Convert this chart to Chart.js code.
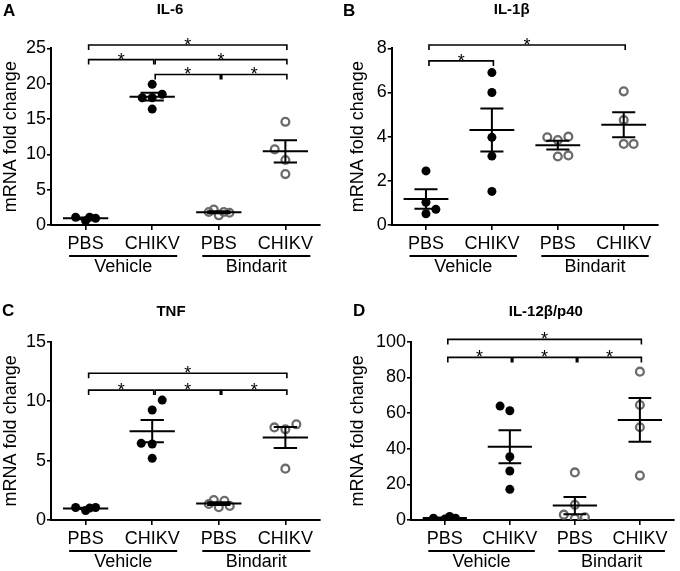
<!DOCTYPE html>
<html>
<head>
<meta charset="utf-8">
<title>mRNA fold change</title>
<script src="https://cdn.jsdelivr.net/npm/chart.js@4.4.1/dist/chart.umd.min.js"></script>
<style>
  body { margin: 0; background: #fff; }
  #wrap { position: relative; width: 680px; height: 571px; }
  .panel { position: absolute; }
</style>
</head>
<body>
<div id="wrap">
  <div class="panel" style="left:0;top:0;width:340px;height:285px"><canvas id="chartA"></canvas></div>
  <div class="panel" style="left:340px;top:0;width:340px;height:285px"><canvas id="chartB"></canvas></div>
  <div class="panel" style="left:0;top:285px;width:340px;height:286px"><canvas id="chartC"></canvas></div>
  <div class="panel" style="left:340px;top:285px;width:340px;height:286px"><canvas id="chartD"></canvas></div>
</div>
<script>
const groups = ['PBS', 'CHIKV', 'PBS', 'CHIKV'];
const treatments = ['Vehicle', 'Bindarit'];

// values per group: [Vehicle PBS, Vehicle CHIKV, Bindarit PBS, Bindarit CHIKV]
const il6Values = [[1.1, 0.6, 1.1, 0.95], [19.9, 18.0, 18.0, 18.5, 16.4], [1.84, 2.2, 1.37, 1.84, 1.74], [14.6, 10.7, 9.2, 7.2]];
const il6Jitter = [[-0.15, 0, 0.06, 0.15], [0, -0.15, 0, 0.15, 0], [-0.15, -0.075, 0, 0.075, 0.16], [0, -0.16, 0, 0]];
const il6Brackets = [[0, 3, 25.46], [0, 1, 23.4], [1, 3, 23.4], [1, 2, 21.3], [2, 3, 21.3]];

const il1bValues = [[2.45, 1.03, 0.51, 0.71], [6.9, 6.0, 3.97, 3.12, 1.52], [3.97, 3.85, 4.0, 3.1, 3.15], [6.05, 4.75, 3.67, 3.67]];
const il1bJitter = [[0, 0, 0, 0.15], [0, 0, 0, 0, 0], [-0.16, 0, 0.16, 0, 0.16], [0, 0, 0, 0.15]];
const il1bBrackets = [[0, 3, 8.15], [0, 1, 7.43]];

const tnfValues = [[1.05, 0.8, 1.0, 1.05], [10.09, 9.25, 6.45, 6.39, 5.19], [1.35, 1.68, 1.07, 1.62, 1.18], [7.79, 7.63, 8.05, 4.32]];
const tnfJitter = [[-0.15, 0, 0.06, 0.15], [0.15, 0, -0.165, 0, 0], [-0.15, -0.075, 0, 0.085, 0.165], [-0.165, 0, 0.165, 0]];
const tnfBrackets = [[0, 3, 12.34], [0, 1, 10.93], [1, 2, 10.93], [2, 3, 10.93]];

const il12Values = [[1.0, 0.5, 2.0, 1.0], [63.9, 61.3, 35.5, 27.5, 17.2], [26.7, 8.5, 3.0, 0.8, 1.5], [83.2, 64.5, 52.0, 24.9]];
const il12Jitter = [[-0.175, 0, 0.075, 0.165], [-0.15, 0, 0, 0, 0], [0, 0, -0.17, 0, 0.155], [0, 0, 0, 0]];
const il12Brackets = [[0, 3, 101.3], [0, 1, 91.2], [1, 2, 91.2], [2, 3, 91.2]];

Chart.defaults.font.family = "'Liberation Sans', Arial, sans-serif";
Chart.defaults.color = '#000';

function meanSem(arr) {
    const n = arr.length;
    const m = arr.reduce((a, b) => a + b, 0) / n;
    const sd = Math.sqrt(arr.reduce((a, b) => a + (b - m) ** 2, 0) / (n - 1));
    return [m, sd / Math.sqrt(n)];
}

function toPoints(values, jitter, cats) {
    const pts = [];
    cats.forEach((c) => {
        values[c].forEach((v, i) => pts.push({ x: c + jitter[c][i], y: v }));
    });
    return pts;
}

const extras = {
    id: 'extras',
    afterDatasetsDraw(chart, args, opts) {
        const ctx = chart.ctx;
        const xs = chart.scales.x, ys = chart.scales.y;
        ctx.save();
        ctx.strokeStyle = '#000';
        ctx.lineWidth = 2;
        opts.values.forEach((vals, c) => {
            const [m, sem] = meanSem(vals);
            const cx = xs.getPixelForValue(c);
            const ym = ys.getPixelForValue(m), yt = ys.getPixelForValue(m + sem), yb = ys.getPixelForValue(m - sem);
            ctx.beginPath();
            ctx.moveTo(xs.getPixelForValue(c - 0.34), ym); ctx.lineTo(xs.getPixelForValue(c + 0.34), ym);
            ctx.moveTo(cx, yt); ctx.lineTo(cx, yb);
            ctx.moveTo(xs.getPixelForValue(c - 0.175), yt); ctx.lineTo(xs.getPixelForValue(c + 0.175), yt);
            ctx.moveTo(xs.getPixelForValue(c - 0.175), yb); ctx.lineTo(xs.getPixelForValue(c + 0.175), yb);
            ctx.stroke();
        });
        ctx.restore();
    },
    afterDraw(chart, args, opts) {
        const ctx = chart.ctx;
        const xs = chart.scales.x, ys = chart.scales.y;
        const bottom = chart.chartArea.bottom;
        ctx.save();
        ctx.strokeStyle = '#000';
        ctx.fillStyle = '#000';
        // significance brackets
        ctx.lineWidth = 1.6;
        ctx.font = "18px 'Liberation Sans', Arial";
        ctx.textAlign = 'center';
        ctx.textBaseline = 'alphabetic';
        opts.brackets.forEach(([a, b, lev]) => {
            const x1 = xs.getPixelForValue(a) + 3, x2 = xs.getPixelForValue(b) + 1.5;
            const y = ys.getPixelForValue(lev);
            ctx.beginPath();
            ctx.moveTo(x1, y + 5); ctx.lineTo(x1, y); ctx.lineTo(x2, y); ctx.lineTo(x2, y + 5);
            ctx.stroke();
            ctx.fillText('*', (x1 + x2) / 2, y + 6);
        });
        // treatment groups under the axis
        ctx.lineWidth = 1.8;
        ctx.font = "18px 'Liberation Sans', Arial";
        ctx.textBaseline = 'middle';
        treatments.forEach((t, i) => {
            const l = xs.getPixelForValue(2 * i) - 16.5, r = xs.getPixelForValue(2 * i + 1) + 25;
            ctx.beginPath();
            ctx.moveTo(l, bottom + 31); ctx.lineTo(r, bottom + 31);
            ctx.stroke();
            ctx.fillText(t, (l + r) / 2, bottom + 42.5);
        });
        // panel title and letter
        ctx.font = "bold 15px 'Liberation Sans', Arial";
        ctx.fillText(opts.title, opts.titlePos[0], opts.titlePos[1]);
        ctx.font = "bold 17px 'Liberation Sans', Arial";
        ctx.textAlign = 'left';
        ctx.fillText(opts.letter, opts.letterPos[0], opts.letterPos[1]);
        ctx.restore();
    }
};

function makePanel(id, cfg) {
    const canvas = document.getElementById(id);
    const w = canvas.parentNode.clientWidth, h = canvas.parentNode.clientHeight;
    return new Chart(canvas.getContext('2d'), {
        type: 'scatter',
        data: {
            datasets: [{
                data: toPoints(cfg.values, cfg.jitter, [0, 1]),
                pointRadius: 4.5,
                pointBackgroundColor: '#000',
                pointBorderWidth: 0
            }, {
                data: toPoints(cfg.values, cfg.jitter, [2, 3]),
                pointRadius: 3.9,
                pointBackgroundColor: 'rgba(0,0,0,0)',
                pointBorderColor: '#6b6b6b',
                pointBorderWidth: 2.3
            }]
        },
        options: {
            responsive: true,
            maintainAspectRatio: false,
            animation: false,
            events: [],
            layout: { padding: { left: 0, top: cfg.box.top, right: w - cfg.box.right, bottom: 0 } },
            plugins: {
                legend: { display: false },
                tooltip: { enabled: false },
                extras: cfg
            },
            scales: {
                x: {
                    type: 'linear',
                    min: -0.52,
                    max: 3.52,
                    afterBuildTicks: (s) => { s.ticks = [0, 1, 2, 3].map((v) => ({ value: v })); },
                    afterFit: (s) => { s.height = h - cfg.box.bottom; },
                    ticks: {
                        autoSkip: false,
                        maxRotation: 0,
                        padding: 3,
                        font: { size: 18 },
                        callback: (v) => groups[v]
                    },
                    grid: { drawOnChartArea: false, color: '#000', tickLength: 5, lineWidth: 1.6 },
                    border: { color: '#000', width: 2 }
                },
                y: {
                    min: 0,
                    max: cfg.yMax,
                    afterFit: (s) => { s.width = cfg.box.left; },
                    ticks: { stepSize: cfg.yStep, padding: 1, font: { size: 18 } },
                    grid: { drawOnChartArea: false, color: '#000', tickLength: 4, lineWidth: 1.6 },
                    border: { color: '#000', width: 2 },
                    title: {
                        display: true,
                        text: 'mRNA fold change',
                        font: { size: 18 },
                        padding: { top: cfg.yTitlePad, bottom: 0 }
                    }
                }
            }
        },
        plugins: [extras]
    });
}

makePanel('chartA', {
    values: il6Values, jitter: il6Jitter, brackets: il6Brackets,
    yMax: 25, yStep: 5, title: 'IL-6', letter: 'A',
    box: { left: 51, right: 320, top: 48.3, bottom: 225 },
    yTitlePad: 0, titlePos: [170, 10], letterPos: [3, 11]
});
makePanel('chartB', {
    values: il1bValues, jitter: il1bJitter, brackets: il1bBrackets,
    yMax: 8, yStep: 2, title: 'IL-1β', letter: 'B',
    box: { left: 51.7, right: 318, top: 48.3, bottom: 225 },
    yTitlePad: 7, titlePos: [171.7, 10], letterPos: [3, 11]
});
makePanel('chartC', {
    values: tnfValues, jitter: tnfJitter, brackets: tnfBrackets,
    yMax: 15, yStep: 5, title: 'TNF', letter: 'C',
    box: { left: 51, right: 320, top: 56.7, bottom: 235 },
    yTitlePad: 0, titlePos: [171, 27], letterPos: [2, 26]
});
makePanel('chartD', {
    values: il12Values, jitter: il12Jitter, brackets: il12Brackets,
    yMax: 100, yStep: 20, title: 'IL-12β/p40', letter: 'D',
    box: { left: 71, right: 338, top: 56.7, bottom: 235 },
    yTitlePad: 7.7, titlePos: [205.8, 27], letterPos: [13, 26.5]
});
</script>
</body>
</html>
